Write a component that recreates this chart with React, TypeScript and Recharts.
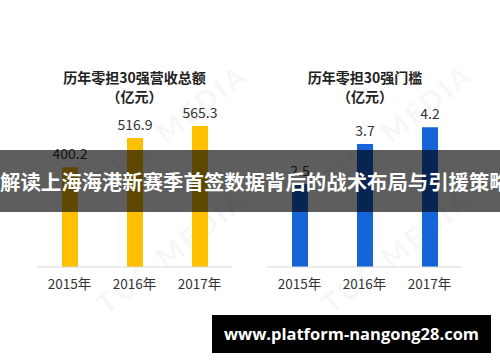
import React from "react";
import { BarChart, Bar, XAxis, YAxis, LabelList } from "recharts";

const years = ["2015年", "2016年", "2017年"];
const revenueValues = [400.2, 516.9, 565.3];
const thresholdValues = [2.5, 3.7, 4.2];
const leftTitle = ["历年零担30强营收总额", "（亿元）"];
const rightTitle = ["历年零担30强门槛", "（亿元）"];
const bannerText = "解读上海海港新赛季首签数据背后的战术布局与引援策略";
const urlText = "www.platform-nangong28.com";

const leftData = years.map((y, i) => ({ year: y, value: revenueValues[i] }));
const rightData = years.map((y, i) => ({ year: y, value: thresholdValues[i] }));

const CJK = '"Noto Sans CJK SC", "Noto Sans", sans-serif';

function Watermark({ x, y }: { x: number; y: number }) {
  return (
    <div
      style={{
        position: "absolute",
        left: x,
        top: y,
        transform: "rotate(-38deg)",
        transformOrigin: "left center",
        color: "rgba(0,0,0,0.045)",
        fontFamily: "Lato, sans-serif",
        fontWeight: 900,
        fontSize: 28,
        whiteSpace: "nowrap",
        letterSpacing: 3,
        pointerEvents: "none",
      }}
    >
      TUC MEDIA
    </div>
  );
}

function Chart({
  data,
  color,
  domainMax,
  width,
  left,
  marginLeft,
  marginRight,
}: {
  data: { year: string; value: number }[];
  color: string;
  domainMax: number;
  width: number;
  left: number;
  marginLeft: number;
  marginRight: number;
}) {
  return (
    <div style={{ position: "absolute", left, top: 0 }}>
      <BarChart
        width={width}
        height={362}
        data={data}
        margin={{ top: 67.5, right: marginRight, bottom: 65, left: marginLeft }}
      >
        <XAxis
          dataKey="year"
          height={30}
          tickLine={false}
          axisLine={{ stroke: "#d9d9d9", strokeWidth: 1 }}
          tick={{ fill: "#333", fontSize: 13.5, fontFamily: CJK }}
          tickMargin={6}
          interval={0}
        />
        <YAxis hide domain={[0, domainMax]} />
        <Bar dataKey="value" fill={color} barSize={16} isAnimationActive={false}>
          <LabelList
            dataKey="value"
            position="top"
            offset={8}
            fill="#333"
            fontSize={14}
            fontFamily={CJK}
          />
        </Bar>
      </BarChart>
    </div>
  );
}

function Title({ lines, cx }: { lines: string[]; cx: number }) {
  return (
    <>
      {lines.map((t, i) => (
        <div
          key={i}
          style={{
            position: "absolute",
            left: cx - 100,
            width: 200,
            top: i === 0 ? 68 : 86.5,
            textAlign: "center",
            fontFamily: CJK,
            fontWeight: 700,
            fontSize: 14,
            lineHeight: "19px",
            color: "#222",
          }}
        >
          {t}
        </div>
      ))}
    </>
  );
}

export default function App() {
  return (
    <div
      style={{
        position: "absolute",
        left: 0,
        top: 0,
        width: 500,
        height: 362,
        background: "#fff",
        overflow: "hidden",
      }}
    >
      <Watermark x={100} y={165} />
      <Watermark x={100} y={290} />
      <Watermark x={325} y={165} />
      <Watermark x={325} y={290} />
      <Chart
        data={leftData}
        color="#FFC000"
        domainMax={800}
        width={260}
        left={0}
        marginLeft={37}
        marginRight={28}
      />
      <Chart
        data={rightData}
        color="#1565D8"
        domainMax={6}
        width={240}
        left={260}
        marginLeft={7}
        marginRight={38}
      />
      <Title lines={leftTitle} cx={134.5} />
      <Title lines={rightTitle} cx={365} />
      <div
        style={{
          position: "absolute",
          left: 0,
          width: 500,
          top: 150,
          height: 62,
          background: "rgba(0,0,0,0.63)",
          color: "#fff",
          fontFamily: CJK,
          fontWeight: 700,
          fontSize: 20.4,
          lineHeight: "62px",
          textAlign: "center",
          whiteSpace: "nowrap",
        }}
      >
        {bannerText}
      </div>
      <div
        style={{
          position: "absolute",
          left: 212,
          top: 315,
          width: 279,
          height: 38,
          background: "#000",
          color: "#fff",
          fontFamily: '"Open Sans", sans-serif',
          fontWeight: 700,
          fontSize: 16.5,
          lineHeight: "38px",
          textAlign: "center",
          whiteSpace: "nowrap",
        }}
      >
        {urlText}
      </div>
    </div>
  );
}
